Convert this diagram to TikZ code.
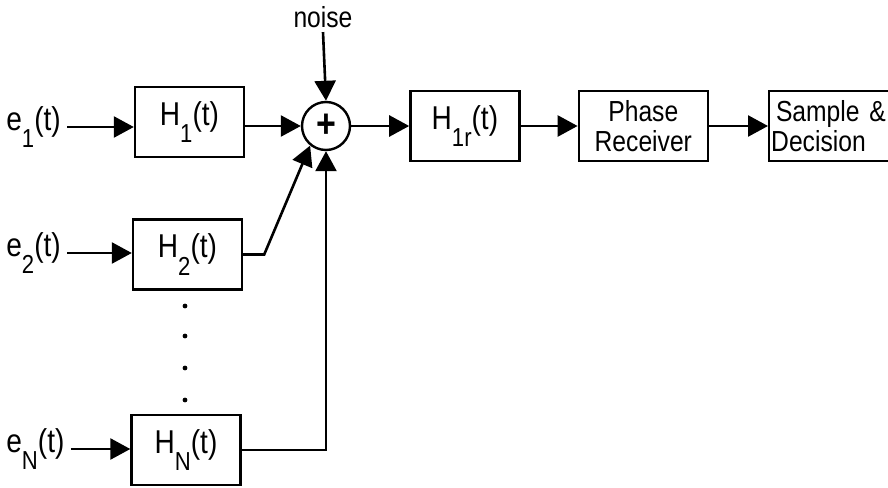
\documentclass[tikz,border=0pt]{standalone}
\usepackage{fontspec}
\setmainfont[FakeStretch=0.85]{Liberation Sans}
\usepackage{tikz}
\usetikzlibrary{arrows.meta, positioning}
\newcommand{\hfont}{\fontsize{16.5}{18}\selectfont}
\newcommand{\bxfont}{\fontsize{14.5}{15}\selectfont}
\newcommand{\lowsub}[1]{\raisebox{-1ex}{\fontsize{13}{13}\selectfont #1}}

\begin{document}
\begin{tikzpicture}[
  x=0.5pt, y=-0.5pt,
  blk/.style={draw, line width=1.2pt, minimum width=54.5pt, minimum height=35pt,
              inner sep=0pt, font=\hfont},
  txtblk/.style={blk, font=\bxfont, align=center},
  lbl/.style={font=\hfont, inner sep=3pt},
  arr/.style={-{Triangle[length=10pt, width=10.5pt]}, line width=1.3pt},
]
  \useasboundingbox (0,0) rectangle (888,487);

  % filter bank
  \node[blk] (h1) at (189.5,122) {H\lowsub{1}(t)};
  \node[blk] (h2) at (187.5,254.5) {H\lowsub{2}(t)};
  \node[blk] (hN) at (186,450) {H\lowsub{N}(t)};
  \foreach \yy in {306,336,368,400}
    \fill (185,\yy) circle (1.2pt);

  % inputs
  \node[lbl, anchor=west] (e1) at (0,127) {e\lowsub{1}(t)};
  \node[lbl, anchor=west] (e2) at (0,253) {e\lowsub{2}(t)};
  \node[lbl, anchor=west] (eN) at (0,449) {e\lowsub{N}(t)};

  % summing junction and receiver chain
  \node[draw, circle, line width=1.2pt, minimum size=24pt, inner sep=0pt,
        font=\fontsize{20}{20}\selectfont\bfseries] (sum) at (326,126) {+};
  \node[font=\bxfont, inner sep=2pt] (noise) at (323,17) {noise};
  \node[blk, right=29pt of sum] (h1r) {H\lowsub{1r}(t)};
  \node[txtblk, minimum width=64.5pt, right=28.5pt of h1r] (phase) {Phase\\Receiver};
  \node[blk, font=\bxfont, align=left, text width=61pt, inner xsep=1pt,
        minimum width=63pt, right=29.5pt of phase] (dec) {\,Sample \&\\Decision};

  \draw[arr] (e1.east) -- (e1.east -| h1.west);
  \draw[arr] (e2.east) -- (e2.east -| h2.west);
  \draw[arr] (eN.east) -- (eN.east -| hN.west);

  \draw[arr] (h1.east |- sum.west) -- (sum.west);
  \draw[arr] (h2.east) -- ++(21,0) -- (sum.231);
  \draw[arr] (hN.east) -| (sum.south);
  \draw[arr] (noise.south) -- (sum.north);

  \draw[arr] (sum.east) -- (h1r.west);
  \draw[arr] (h1r.east) -- (phase.west);
  \draw[arr] (phase.east) -- (dec.west);
\end{tikzpicture}
\end{document}
